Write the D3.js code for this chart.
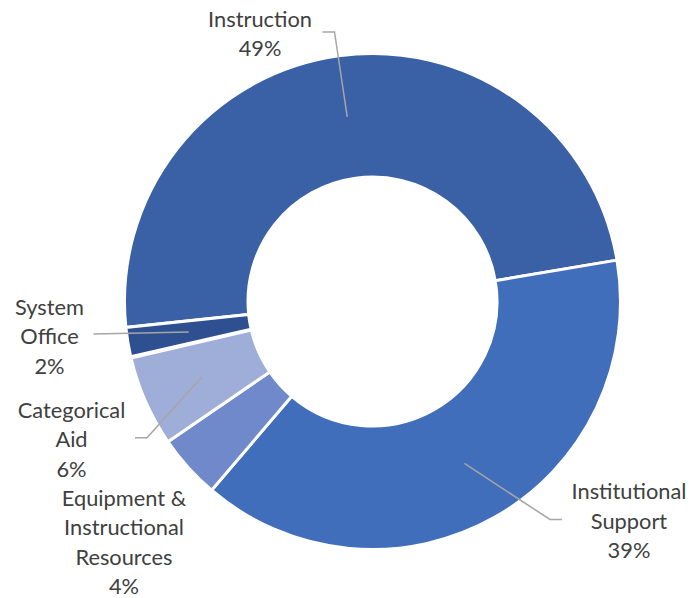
<!DOCTYPE html>
<html>
<head>
<meta charset="utf-8">
<script src="https://cdn.jsdelivr.net/npm/d3@7"></script>
<style>
  html, body { margin: 0; padding: 0; background: #ffffff; }
  svg { display: block; }
  text { font-family: Lato, "Open Sans", sans-serif; fill: #404040; }
</style>
</head>
<body>
<svg id="chart" width="700" height="598"></svg>
<script>
// Budget shares by category (percent of total)
const categories = [
  "Instruction",
  "Institutional Support",
  "Equipment & Instructional Resources",
  "Categorical Aid",
  "Other",
  "System Office"
];
const values = [49.0, 38.9, 4.2, 5.9, 0.1, 1.9];
const labelLines = [
  ["Instruction"],
  ["Institutional", "Support"],
  ["Equipment &", "Instructional", "Resources"],
  ["Categorical", "Aid"],
  null,
  ["System", "Office"]
];
const colors = ["#3A60A6", "#406EBB", "#6F89CA", "#9FAED8", "#F4B183", "#2E5090"];

// Geometry
const width = 700, height = 598;
const cx = 372.5, cy = 301.5;
const outerR = 248, innerR = 124.5;
const startDeg = -96;
const lineGap = 29.5;
const fontSize = 21.8;

// Label placement, relative to the chart centre:
// text centre x, first-line centre y, leader end point and elbow direction
const labelLayout = [
  { x: -112.5, y: -282.5, end: [-50, -269.5], elbow: 12 },
  { x: 256.5, y: 190.2, end: [189.5, 218], elbow: -12 },
  { x: -248.5, y: 196.5, end: null, elbow: 0 },
  { x: -301, y: 108.5, end: [-237.5, 136.2], elbow: 12 },
  null,
  { x: -323, y: 5.5, end: [-279, 32.5], elbow: 0 }
];

const svg = d3.select("#chart");
const g = svg.append("g").attr("transform", `translate(${cx},${cy})`);

const data = categories.map((c, i) => ({ name: c, value: values[i], i }));
const total = d3.sum(values);

const pie = d3.pie()
  .value(d => d.value)
  .sort(null)
  .startAngle(startDeg * Math.PI / 180)
  .endAngle(startDeg * Math.PI / 180 + 2 * Math.PI);

const arc = d3.arc().innerRadius(innerR).outerRadius(outerR);
const arcs = pie(data);

g.selectAll("path.slice")
  .data(arcs)
  .join("path")
  .attr("class", "slice")
  .attr("d", arc)
  .attr("fill", d => colors[d.data.i])
  .attr("stroke", "#ffffff")
  .attr("stroke-width", d => d.data.name === "Other" ? 0.6 : 3)
  .attr("stroke-linejoin", "miter");

// Leader lines from slice centroids to the labels
arcs.forEach(a => {
  const L = labelLayout[a.data.i];
  if (!L || !L.end) return;
  const c = arc.centroid(a);
  const pts = [c, [L.end[0] + L.elbow, L.end[1]], L.end];
  g.append("path")
    .attr("d", d3.line()(pts))
    .attr("fill", "none")
    .attr("stroke", "#A6A6A6")
    .attr("stroke-width", 1.5);
});

// Labels: category name lines followed by rounded percentage
arcs.forEach(a => {
  const L = labelLayout[a.data.i];
  const lines = labelLines[a.data.i];
  if (!L || !lines) return;
  const pct = Math.round(a.data.value / total * 100) + "%";
  const all = lines.concat([pct]);
  const t = g.append("text")
    .attr("text-anchor", "middle")
    .style("font-size", fontSize + "px");
  all.forEach((s, k) => {
    t.append("tspan")
      .attr("x", L.x)
      .attr("y", L.y + k * lineGap + fontSize * 0.35)
      .text(s);
  });
});
</script>
</body>
</html>
